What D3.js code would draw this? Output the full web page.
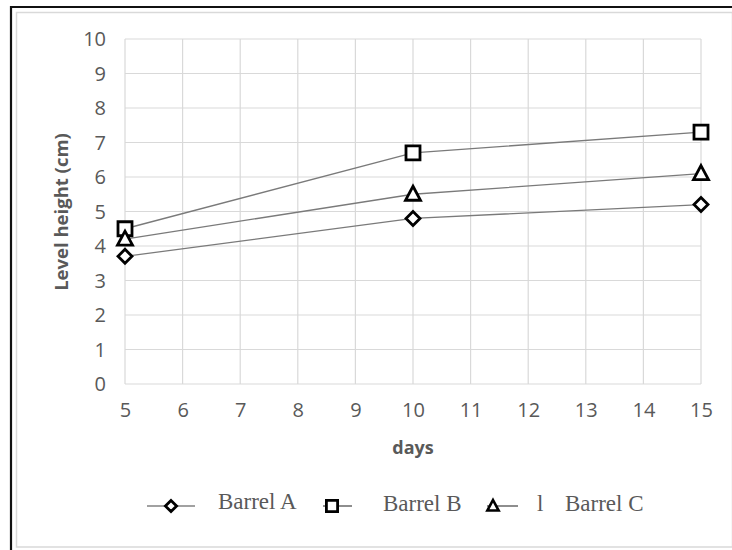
<!DOCTYPE html>
<html>
<head>
<meta charset="utf-8">
<script src="https://cdn.jsdelivr.net/npm/d3@7"></script>
<style>
  html, body { margin: 0; padding: 0; background: #fff; }
  svg { display: block; }
</style>
</head>
<body>
<svg id="chart" width="732" height="550"></svg>
<script>
const days = [5, 10, 15];
const barrelA = [3.7, 4.8, 5.2];
const barrelB = [4.5, 6.7, 7.3];
const barrelC = [4.2, 5.5, 6.1];
const xTicks = [5, 6, 7, 8, 9, 10, 11, 12, 13, 14, 15];
const yTicks = [0, 1, 2, 3, 4, 5, 6, 7, 8, 9, 10];
const seriesNames = ["Barrel A", "Barrel B", "Barrel C"];
const markerTypes = ["diamond", "square", "triangle"];

const series = [barrelA, barrelB, barrelC].map((vals, i) => ({
  name: seriesNames[i], marker: markerTypes[i],
  points: vals.map((v, j) => ({ x: days[j], y: v }))
}));

const svg = d3.select("#chart");
const W = 732, H = 550;

// frame
svg.append("rect").attr("x", 16.5).attr("y", 12.5).attr("width", W - 16).attr("height", 534.5)
  .attr("fill", "#fff").attr("stroke", "#d9d9d9").attr("stroke-width", 1.5);
svg.append("line").attr("x1", 10).attr("x2", W).attr("y1", 7).attr("y2", 7)
  .attr("stroke", "#111").attr("stroke-width", 2.2);
svg.append("line").attr("x1", 11).attr("x2", 11).attr("y1", 6).attr("y2", H)
  .attr("stroke", "#111").attr("stroke-width", 2.2);

const x = d3.scaleLinear().domain([5, 15]).range([125, 701]);
const y = d3.scaleLinear().domain([0, 10]).range([384, 39]);

const g = svg.append("g");

// grid
g.append("g").selectAll("line").data(yTicks).join("line")
  .attr("x1", x(5)).attr("x2", x(15))
  .attr("y1", d => y(d)).attr("y2", d => y(d))
  .attr("stroke", "#d9d9d9").attr("stroke-width", 1.2);
g.append("g").selectAll("line").data(xTicks).join("line")
  .attr("x1", d => x(d)).attr("x2", d => x(d))
  .attr("y1", y(0)).attr("y2", y(10))
  .attr("stroke", "#d9d9d9").attr("stroke-width", 1.2);

// axes (labels only)
const font = "'Open Sans', Lato, sans-serif";
const yAxis = d3.axisLeft(y).tickValues(yTicks).tickSize(0).tickPadding(0);
const ya = g.append("g").attr("transform", `translate(106,0)`).call(yAxis);
ya.select(".domain").remove();
ya.selectAll("text").attr("font-family", font).attr("font-size", 20).attr("fill", "#595959")
  .attr("dy", "0.34em");

const xAxis = d3.axisBottom(x).tickValues(xTicks).tickSize(0).tickPadding(0);
const xa = g.append("g").attr("transform", `translate(0,403)`).call(xAxis);
xa.select(".domain").remove();
xa.selectAll("text").attr("font-family", font).attr("font-size", 20).attr("fill", "#595959")
  .attr("dy", "0.72em");

// axis titles
svg.append("text").attr("x", 413).attr("y", 454).attr("text-anchor", "middle")
  .attr("font-family", font).attr("font-weight", "bold").attr("font-size", 18)
  .attr("fill", "#595959").text("days");
svg.append("text").attr("transform", "translate(68,212) rotate(-90)").attr("text-anchor", "middle")
  .attr("font-family", font).attr("font-weight", "bold").attr("font-size", 18.5)
  .attr("fill", "#595959").text("Level height (cm)");

// markers
function markerPath(type) {
  if (type === "diamond") return "M0,-7L7,0L0,7L-7,0Z";
  if (type === "square") return "M-7,-7H7V7H-7Z";
  return "M0,-8L7.5,6L-7.5,6Z";
}

const line = d3.line().x(d => x(d.x)).y(d => y(d.y));
series.forEach(s => {
  g.append("path").datum(s.points).attr("d", line)
    .attr("fill", "none").attr("stroke", "#7a7a7a").attr("stroke-width", 1.3);
});
series.forEach(s => {
  g.append("g").selectAll("path").data(s.points).join("path")
    .attr("transform", d => `translate(${x(d.x)},${y(d.y)})`)
    .attr("d", markerPath(s.marker))
    .attr("fill", "#fff").attr("stroke", "#000").attr("stroke-width", 2.8);
});

// legend
const legendY = 503;
const serif = "'Liberation Serif', 'Times New Roman', serif";
const leg = svg.append("g");
const legItems = [
  { line: [147, 195], mk: 171, text: 218, size: 0.8 },
  { line: [323, 352], mk: 332, text: 383, size: 0.8 },
  { line: [487, 518], mk: 493, text: 565, size: 0.75 }
];
legItems.forEach((it, i) => {
  leg.append("line").attr("x1", it.line[0]).attr("x2", it.line[1])
    .attr("y1", legendY + 3).attr("y2", legendY + 3).attr("stroke", "#444").attr("stroke-width", 1.2);
  leg.append("path").attr("transform", `translate(${it.mk},${legendY + 3}) scale(${it.size})`)
    .attr("d", markerPath(series[i].marker))
    .attr("fill", "#fff").attr("stroke", "#000").attr("stroke-width", 3.5);
  leg.append("text").attr("x", it.text).attr("y", legendY + 7 + (i === 0 ? -1 : 1))
    .attr("font-family", serif).attr("font-size", 23).attr("fill", "#595959").text(series[i].name);
});
leg.append("text").attr("x", 537).attr("y", legendY + 8)
  .attr("font-family", serif).attr("font-size", 23).attr("fill", "#595959").text("l");
</script>
</body>
</html>
